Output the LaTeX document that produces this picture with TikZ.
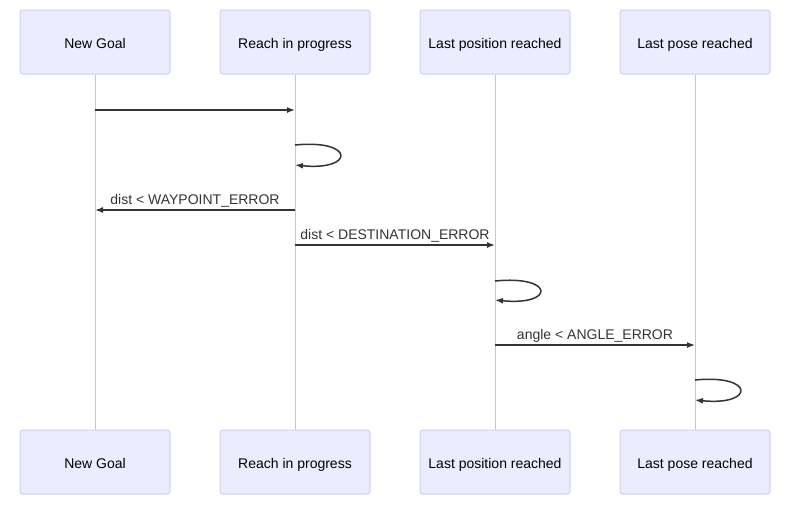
\documentclass[tikz,border=0pt]{standalone}
\usepackage{fontspec}
\setmainfont{Liberation Sans}
\usetikzlibrary{arrows.meta}
\definecolor{actfill}{HTML}{ECECFF}
\definecolor{actline}{HTML}{CCCCFF}
\definecolor{lifeline}{HTML}{C8C8C8}
\definecolor{msgline}{HTML}{333333}
\tikzset{
  actor/.style={draw=actline, fill=actfill, rounded corners=3pt, line width=1pt,
    minimum width=150pt, minimum height=64pt, inner sep=0pt,
    text height=12pt, text depth=0pt,
    font=\fontsize{14}{16}\selectfont, text=black},
  life/.style={draw=lifeline, line width=1pt},
  msg/.style={draw=msgline, line width=1.5pt, -{Latex[length=8pt,width=6pt]}},
  msglabel/.style={font=\fontsize{14}{16}\selectfont, text=msgline, inner sep=0pt,
    text height=12pt, text depth=0pt}
}
\begin{document}
\begin{tikzpicture}[x=1pt, y=-1pt]
            \useasboundingbox (0,0) rectangle (809,512);
            % actors, top and bottom
            \node[actor] (goalT) at (95,42) {New Goal};
            \node[actor] (reachT) at (295,42) {Reach in progress};
            \node[actor] (posT) at (495,42) {Last position reached};
            \node[actor] (poseT) at (695,42) {Last pose reached};
            \node[actor] (goalB) at (95,462) {New Goal};
            \node[actor] (reachB) at (295,462) {Reach in progress};
            \node[actor] (posB) at (495,462) {Last position reached};
            \node[actor] (poseB) at (695,462) {Last pose reached};
            % lifelines
            \draw[life] (goalT) -- (goalB);
            \draw[life] (reachT) -- (reachB);
            \draw[life] (posT) -- (posB);
            \draw[life] (poseT) -- (poseB);
            % points on the lifelines
            \coordinate (g1) at (95,110);
            \coordinate (r1) at (295,110);
            \coordinate (r2) at (295,145);
            \coordinate (r3) at (295,165);
            \coordinate (r4) at (295,210);
            \coordinate (g4) at (95,210);
            \coordinate (r5) at (295,245);
            \coordinate (p5) at (495,245);
            \coordinate (p6) at (495,281);
            \coordinate (p7) at (495,300);
            \coordinate (p8) at (495,345);
            \coordinate (q8) at (695,345);
            \coordinate (q9) at (695,380);
            \coordinate (q10) at (695,400);
            % messages
            \draw[msg] (g1) -- (r1);
            \draw[msg] (r2) .. controls (355,139) and (355,171) .. (r3);
            \draw[msg] (r4) -- (g4);
            \draw[msg] (r5) -- (p5);
            \draw[msg] (p6) .. controls (555,275) and (555,306) .. (p7);
            \draw[msg] (p8) -- (q8);
            \draw[msg] (q9) .. controls (755,374) and (755,406) .. (q10);
            \node[msglabel] (l4) at (195,198) {dist < WAYPOINT\_ERROR};
            \node[msglabel] (l5) at (395,233) {dist < DESTINATION\_ERROR};
            \node[msglabel] (l8) at (595,333) {angle < ANGLE\_ERROR};
        \end{tikzpicture}
\end{document}
